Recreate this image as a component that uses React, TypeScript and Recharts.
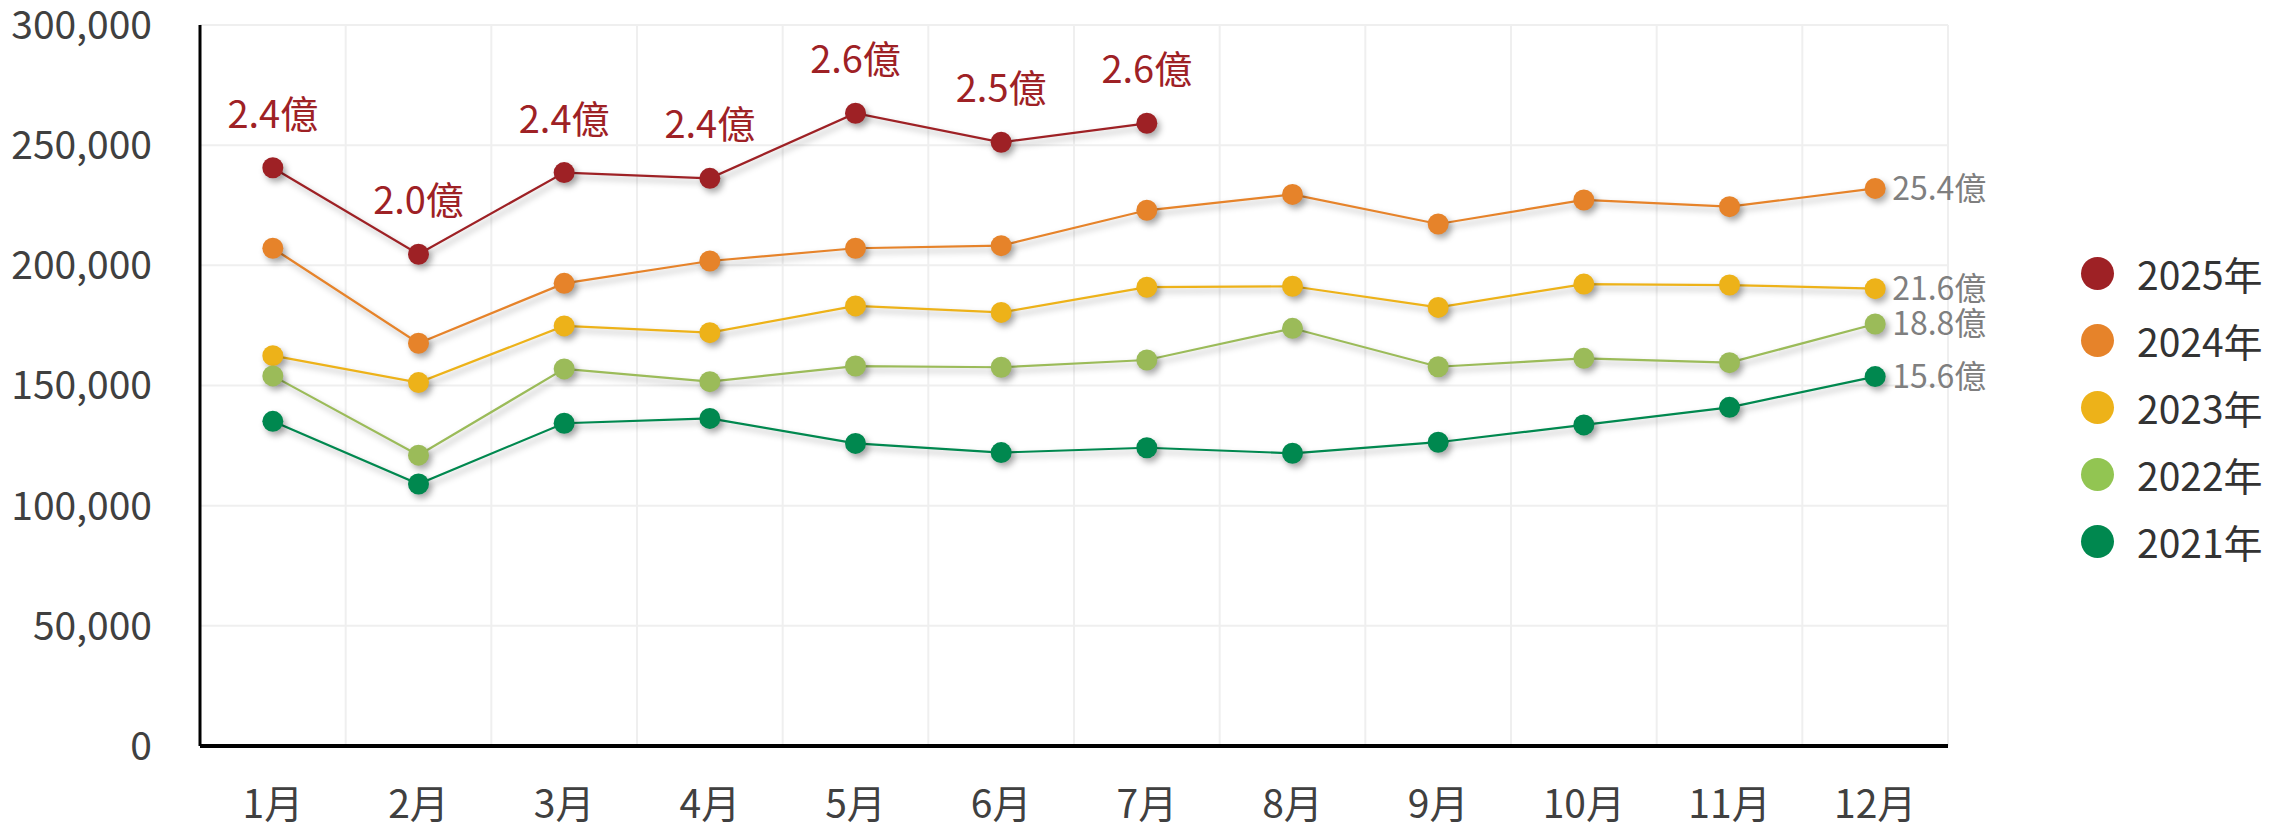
import React from 'react';
import { LineChart, Line, XAxis, YAxis, CartesianGrid, LabelList, Legend } from 'recharts';

const months = ['1月', '2月', '3月', '4月', '5月', '6月', '7月', '8月', '9月', '10月', '11月', '12月'];
const seriesNames = ['2025年', '2024年', '2023年', '2022年', '2021年'];
const seriesColors = ['#9E2125', '#E6832A', '#EDB219', '#9BBB59', '#00884F'];
const legendColors = ['#9E2125', '#E6832A', '#EDB219', '#92C552', '#00884F'];

const sales2025 = [240600, 204600, 238600, 236200, 263300, 251200, 259100, null, null, null, null, null];
const sales2024 = [207100, 167600, 192500, 201800, 207100, 208200, 222900, 229500, 217200, 227200, 224400, 232000];
const sales2023 = [162400, 151200, 174800, 172000, 183100, 180400, 190900, 191300, 182500, 192200, 191800, 190300];
const sales2022 = [154000, 121000, 156900, 151600, 158100, 157600, 160600, 173800, 157800, 161300, 159500, 175600];
const sales2021 = [135100, 109000, 134300, 136300, 125900, 122100, 124100, 121800, 126400, 133600, 140900, 153700];

const labels2025 = ['2.4億', '2.0億', '2.4億', '2.4億', '2.6億', '2.5億', '2.6億', null, null, null, null, null];
const yearTotals = ['25.4億', '21.6億', '18.8億', '15.6億']; // 2024, 2023, 2022, 2021

const yTicks = [0, 50000, 100000, 150000, 200000, 250000, 300000];
const monthIndex = [1, 2, 3, 4, 5, 6, 7, 8, 9, 10, 11, 12];
const gridX = [0.5, 1.5, 2.5, 3.5, 4.5, 5.5, 6.5, 7.5, 8.5, 9.5, 10.5, 11.5, 12.5];

const data = monthIndex.map((m, i) => ({
  m,
  y2025: sales2025[i],
  y2024: sales2024[i],
  y2023: sales2023[i],
  y2022: sales2022[i],
  y2021: sales2021[i],
  lbl2025: labels2025[i],
  end2024: i === 11 ? yearTotals[0] : null,
  end2023: i === 11 ? yearTotals[1] : null,
  end2022: i === 11 ? yearTotals[2] : null,
  end2021: i === 11 ? yearTotals[3] : null,
}));

const FONT = '"Noto Sans CJK TC", "Noto Sans", sans-serif';

const LegendContent = () => (
  <div style={{ fontFamily: FONT }}>
    {seriesNames.map((n, i) => (
      <div key={n} style={{ display: 'flex', alignItems: 'center', height: 67 }}>
        <span
          style={{
            display: 'inline-block',
            width: 33,
            height: 33,
            borderRadius: '50%',
            background: legendColors[i],
            marginRight: 23,
          }}
        />
        <span style={{ fontSize: 39, color: '#333333', lineHeight: '67px' }}>{n}</span>
      </div>
    ))}
  </div>
);

export default function App() {
  const keys = ['y2025', 'y2024', 'y2023', 'y2022', 'y2021'];
  const endKeys = [null, 'end2024', 'end2023', 'end2022', 'end2021'];
  return (
    <div style={{ position: 'absolute', left: 0, top: 0, width: 2290, height: 829, background: '#fff' }}>
      <style>{`
        body { margin: 0; }
        .recharts-line-curve, .recharts-line-dots { filter: drop-shadow(3px 4px 3px rgba(0,0,0,0.32)); }
      `}</style>
      <LineChart
        width={2290}
        height={829}
        data={data}
        margin={{ top: 25, right: 342, left: 0, bottom: 0 }}
        style={{ fontFamily: FONT }}
      >
        <CartesianGrid stroke="#EFEFEF" strokeWidth={2} verticalValues={gridX} />
        <XAxis
          type="number"
          dataKey="m"
          domain={[0.5, 12.5]}
          ticks={monthIndex}
          tickFormatter={(v: number) => months[v - 1]}
          height={83}
          axisLine={{ stroke: '#000', strokeWidth: 4 }}
          tickLine={false}
          tickSize={0}
          tickMargin={44}
          tick={{ fill: '#404040', fontSize: 39, fontFamily: FONT }}
          interval={0}
        />
        <YAxis
          width={200}
          domain={[0, 300000]}
          ticks={yTicks}
          tickFormatter={(v: number) => v.toLocaleString('en-US')}
          axisLine={{ stroke: '#000', strokeWidth: 3 }}
          tickLine={false}
          tickSize={0}
          tickMargin={48}
          tick={{ fill: '#404040', fontSize: 39, fontFamily: FONT }}
          interval={0}
        />
        <Legend
          layout="horizontal"
          align="center"
          verticalAlign="middle"
          content={<LegendContent />}
          wrapperStyle={{ left: 2081, top: 240, width: 200, height: 340 }}
        />
        {keys.map((k, i) => (
          <Line
            key={k}
            type="linear"
            dataKey={k}
            name={seriesNames[i]}
            stroke={seriesColors[i]}
            strokeWidth={2.2}
            dot={{ r: 10.5, fill: seriesColors[i], stroke: seriesColors[i], strokeWidth: 0 }}
            activeDot={false}
            isAnimationActive={false}
            connectNulls={false}
          >
            {i === 0 && (
              <LabelList
                dataKey="lbl2025"
                position="top"
                offset={40}
                style={{ fill: '#9E2125', fontSize: 38, fontFamily: FONT }}
              />
            )}
            {i > 0 && (
              <LabelList
                dataKey={endKeys[i] as string}
                position="right"
                offset={17}
                style={{ fill: '#7F7F7F', fontSize: 32, fontFamily: FONT }}
              />
            )}
          </Line>
        ))}
      </LineChart>
    </div>
  );
}
